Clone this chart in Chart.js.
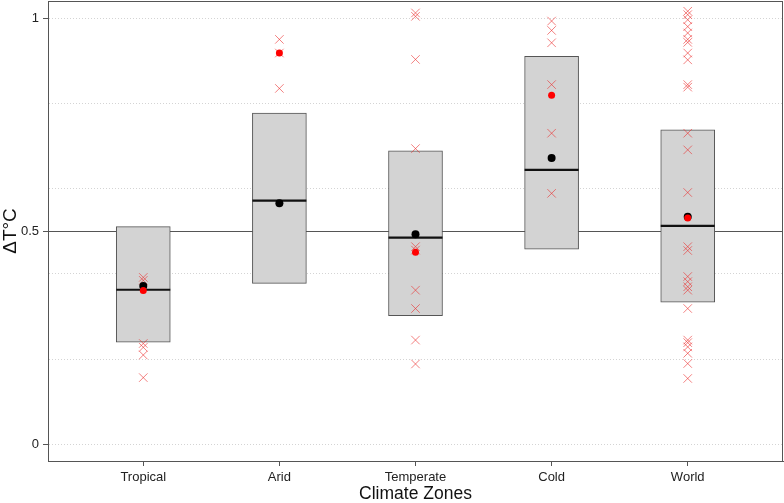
<!DOCTYPE html>
<html>
<head>
<meta charset="utf-8">
<script src="https://cdn.jsdelivr.net/npm/chart.js@4"></script>
<style>
  html, body { margin: 0; padding: 0; background: #fff; }
  #wrap { width: 784px; height: 503px; }
</style>
</head>
<body>
<div id="wrap"><canvas id="chart" width="784" height="503"></canvas></div>
<script>
/* ---- data ---- */
const zones = ['Tropical', 'Arid', 'Temperate', 'Cold', 'World'];
const boxLow = [0.240, 0.378, 0.302, 0.458, 0.334];
const boxHigh = [0.511, 0.777, 0.689, 0.910, 0.738];
const medians = [0.363, 0.572, 0.485, 0.644, 0.513];
const meansBlack = [0.372, 0.566, 0.493, 0.672, 0.534];
const meansRed = [0.361, 0.918, 0.451, 0.819, 0.531];

const tropicalPts = [0.392, 0.385, 0.237, 0.228, 0.210, 0.157];
const aridPts = [0.950, 0.918, 0.835];
const temperatePts = [1.012, 1.004, 0.903, 0.694, 0.464, 0.456, 0.362, 0.319, 0.245, 0.189];
const coldPts = [0.993, 0.971, 0.942, 0.844, 0.730, 0.589];
const worldPts = [1.016, 1.008, 0.996, 0.980, 0.965, 0.950, 0.943, 0.918, 0.902, 0.844, 0.838,
  0.730, 0.691, 0.591, 0.464, 0.455, 0.394, 0.382, 0.370, 0.362, 0.319, 0.245, 0.239, 0.229,
  0.214, 0.190, 0.155];

const yTicks = [0, 0.2, 0.4, 0.5, 0.6, 0.8, 1];
const yLabelled = [0, 0.5, 1];
const refLine = 0.5;

(function () {
  const ptsByZone = [tropicalPts, aridPts, temperatePts, coldPts, worldPts];
  const crosses = [];
  ptsByZone.forEach((arr, i) => arr.forEach((v) => crosses.push({ x: i + 1, y: v })));
  const atZone = (arr) => arr.map((v, i) => ({ x: i + 1, y: v }));

  // plot frame, like R's box()
  const frame = {
    id: 'frame',
    afterDraw(chart) {
      const { ctx, chartArea: a } = chart;
      ctx.save();
      ctx.strokeStyle = '#555';
      ctx.lineWidth = 1;
      ctx.strokeRect(Math.round(a.left) + 0.5, Math.round(a.top) + 0.5,
        Math.round(a.right - a.left) - 1, Math.round(a.bottom - a.top));
      ctx.restore();
    },
  };

  const noEdgePad = (s) => { s.paddingTop = 0; s.paddingBottom = 0; s.paddingLeft = 0; s.paddingRight = 0; };

  new Chart(document.getElementById('chart'), {
    type: 'bar',
    data: {
      datasets: [
        {
          type: 'scatter', order: 0, data: atZone(meansRed),
          pointStyle: 'circle', pointRadius: 3.5, backgroundColor: '#ff0000', borderColor: '#ff0000', borderWidth: 0,
        },
        {
          type: 'scatter', order: 1, data: atZone(meansBlack),
          pointStyle: 'circle', pointRadius: 4, backgroundColor: '#000', borderColor: '#000', borderWidth: 0,
        },
        {
          type: 'scatter', order: 2, data: crosses,
          pointStyle: 'crossRot', pointRadius: 6, borderColor: 'rgba(235,45,45,0.6)', borderWidth: 1,
        },
        {
          type: 'scatter', order: 3, data: atZone(medians),
          pointStyle: 'line', pointRadius: 27, borderColor: '#111', borderWidth: 2.2,
        },
        {
          type: 'bar', order: 4,
          data: zones.map((z, i) => ({ x: i + 1, y: [boxLow[i], boxHigh[i]] })),
          backgroundColor: '#d3d3d3', borderColor: '#555', borderWidth: 1,
          borderSkipped: false, barThickness: 54,
        },
      ],
    },
    options: {
      responsive: false,
      animation: false,
      layout: { autoPadding: false, padding: { top: 1, right: 1, left: 0, bottom: 0 } },
      plugins: { legend: { display: false }, tooltip: { enabled: false } },
      scales: {
        x: {
          type: 'linear', min: 0.3, max: 5.7, offset: false,
          afterBuildTicks: (s) => { s.ticks = zones.map((z, i) => ({ value: i + 1 })); },
          afterFit: (s) => { s.height = 42; noEdgePad(s); },
          ticks: {
            autoSkip: false, maxRotation: 0, padding: 4,
            color: '#222', font: { family: 'Liberation Sans, Arial', size: 13 },
            callback: (v) => zones[v - 1] || '',
          },
          grid: { offset: false, drawOnChartArea: false, tickLength: 5, tickColor: '#555' },
          border: { color: '#555' },
          title: {
            display: true, text: 'Climate Zones', color: '#111',
            font: { family: 'Liberation Sans, Arial', size: 17.5, lineHeight: 1 }, padding: { top: 0, bottom: 0 },
          },
        },
        y: {
          min: -0.0385, max: 1.04,
          afterBuildTicks: (s) => { s.ticks = yTicks.map((v) => ({ value: v })); },
          afterFit: (s) => { s.width = 48; noEdgePad(s); },
          ticks: {
            autoSkip: false, padding: 4,
            color: '#222', font: { family: 'Liberation Sans, Arial', size: 13 },
            callback: (v) => (yLabelled.includes(v) ? String(v) : ''),
          },
          grid: {
            tickLength: 5,
            color: (c) => (c.tick && c.tick.value === refLine ? '#555' : '#d4d4d4'),
            tickColor: (c) => (c.tick && yLabelled.includes(c.tick.value) ? '#555' : 'rgba(0,0,0,0)'),
          },
          border: {
            color: '#555',
            dash: (c) => (c.tick && c.tick.value !== refLine ? [1, 2] : []),
          },
          title: {
            display: true, text: 'ΔT°C', color: '#111',
            font: { family: 'Liberation Sans, Arial', size: 19, lineHeight: 1.1 }, padding: { top: 0, bottom: 2 },
          },
        },
      },
    },
    plugins: [frame],
  });
})();
</script>
</body>
</html>
